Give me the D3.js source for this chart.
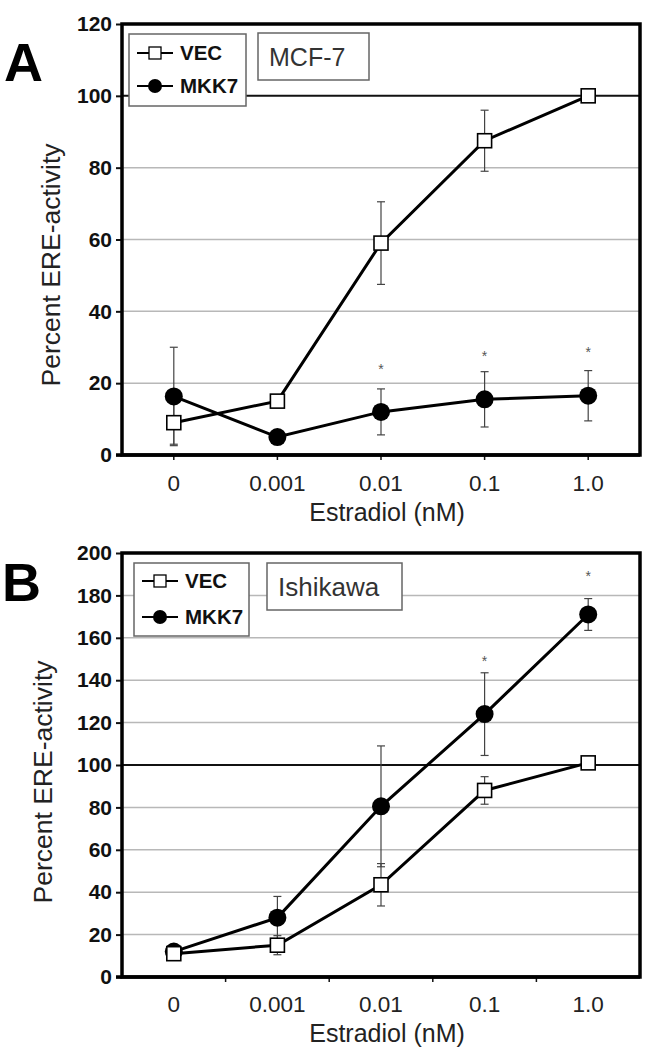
<!DOCTYPE html>
<html><head><meta charset="utf-8">
<script src="https://cdn.jsdelivr.net/npm/d3@7"></script>
<style>body{margin:0;background:#fff}svg{display:block}</style>
</head><body>
<svg id="c" width="652" height="1050"></svg>
<script>
const categories = ["0", "0.001", "0.01", "0.1", "1.0"];
const seriesNames = ["VEC", "MKK7"];
// Panel A (MCF-7)
const aVEC = [9, 15, 59, 87.5, 100];
const aVECerr = [6, 0, 11.5, 8.5, 0];
const aMKK7 = [16.3, 5, 12, 15.5, 16.5];
const aMKK7err = [13.7, 0, 6.4, 7.7, 7];
const aStars = [null, null, 24.5, 28, 29.3];
const aTicks = [0, 20, 40, 60, 80, 100, 120];
// Panel B (Ishikawa)
const bVEC = [11, 15, 43.5, 88, 101];
const bVECerr = [0, 4.5, 10, 6.5, 0];
const bMKK7 = [12, 28, 80.5, 124, 171];
const bMKK7err = [0, 10, 28.5, 19.5, 7.5];
const bStars = [null, null, null, 150, 190];
const bTicks = [0, 20, 40, 60, 80, 100, 120, 140, 160, 180, 200];

const svg = d3.select("#c");
const FONT = "Liberation Sans, Arial, sans-serif";

function panel(o) {
  const g = svg.append("g");
  const x = d3.scalePoint().domain(categories).range([o.left, o.right]).padding(0.5);
  const y = d3.scaleLinear().domain([0, o.max]).range([o.bottom, o.top]);
  // grid
  g.selectAll(".grid").data(o.ticks.filter(t => t > 0 && t < o.max)).join("line")
    .attr("x1", o.left).attr("x2", o.right)
    .attr("y1", d => y(d)).attr("y2", d => y(d))
    .attr("stroke", d => d === 100 ? "#111" : "#b8b8b8")
    .attr("stroke-width", d => d === 100 ? 2 : 1.5);
  // y axis
  const ya = g.append("g").attr("transform", `translate(${o.left},0)`)
    .call(d3.axisLeft(y).tickValues(o.ticks).tickSize(6).tickPadding(4));
  ya.select(".domain").remove();
  ya.selectAll("line").attr("stroke", "#111").attr("stroke-width", 2);
  ya.selectAll("text").attr("font-family", FONT).attr("font-weight", "bold")
    .attr("font-size", 21).attr("fill", "#111");
  // x axis
  const xa = g.append("g");
  if (o.betweenTicks) {
    const step = x.step();
    const b = d3.range(1, categories.length).map(i => o.left + i * step);
    xa.selectAll("line").data(b).join("line").attr("x1", d => d).attr("x2", d => d)
      .attr("y1", o.bottom).attr("y2", o.bottom + 5).attr("stroke", "#111").attr("stroke-width", 1.5);
  } else {
    xa.selectAll("line").data(categories).join("line").attr("x1", d => x(d)).attr("x2", d => x(d))
      .attr("y1", o.bottom).attr("y2", o.bottom + 5).attr("stroke", "#111").attr("stroke-width", 1.5);
  }
  xa.selectAll("text").data(categories).join("text")
    .attr("x", d => x(d)).attr("y", o.xLabelY).attr("text-anchor", "middle")
    .attr("font-family", FONT).attr("font-size", 22.5).attr("fill", "#222").text(d => d);
  g.append("line").attr("x1", o.left - 6).attr("x2", o.right)
    .attr("y1", o.bottom).attr("y2", o.bottom).attr("stroke", "#000").attr("stroke-width", 3.5);
  // frame
  g.append("rect").attr("x", o.left).attr("y", o.top)
    .attr("width", o.right - o.left).attr("height", o.bottom - o.top)
    .attr("fill", "none").attr("stroke", "#000").attr("stroke-width", 3.5);
  // titles
  g.append("text").attr("x", (o.left + o.right) / 2 + 6).attr("y", o.xTitleY)
    .attr("text-anchor", "middle").attr("font-family", FONT).attr("font-size", 25)
    .attr("fill", "#222").text("Estradiol (nM)");
  g.append("text").attr("transform", `translate(${o.yTitleX},${o.yTitleC}) rotate(-90)`)
    .attr("text-anchor", "middle").attr("font-family", FONT).attr("font-size", 26.5)
    .attr("fill", "#222").text("Percent ERE-activity");
  g.append("text").attr("x", o.letterX).attr("y", o.letterY)
    .attr("font-family", FONT).attr("font-weight", "bold").attr("font-size", 54)
    .attr("fill", "#000").text(o.letter);

  // legend
  const L = o.legend;
  g.append("rect").attr("x", L.x).attr("y", L.y).attr("width", L.w).attr("height", L.h)
    .attr("fill", "#fff").attr("stroke", "#666").attr("stroke-width", 1.5);
  seriesNames.forEach((s, i) => {
    const ry = L.y + L.r0 + i * L.dr;
    g.append("line").attr("x1", L.x + 8).attr("x2", L.x + 44).attr("y1", ry).attr("y2", ry)
      .attr("stroke", "#000").attr("stroke-width", 2);
    if (i === 0) g.append("rect").attr("x", L.x + 26 - 6).attr("y", ry - 6).attr("width", 12).attr("height", 12)
      .attr("fill", "#fff").attr("stroke", "#000").attr("stroke-width", 1.3);
    else g.append("circle").attr("cx", L.x + 26).attr("cy", ry).attr("r", 7).attr("fill", "#000");
    g.append("text").attr("x", L.x + 51).attr("y", ry + 7).attr("font-family", FONT)
      .attr("font-weight", "bold").attr("font-size", 20.5).attr("fill", "#111").text(s);
  });
  const C = o.cell;
  g.append("rect").attr("x", C.x).attr("y", C.y).attr("width", C.w).attr("height", C.h)
    .attr("fill", "#fff").attr("stroke", "#666").attr("stroke-width", 1.5);
  g.append("text").attr("x", C.x + 11).attr("y", C.y + C.h / 2 + 9).attr("font-family", FONT)
    .attr("font-size", C.fs).attr("fill", "#333").text(C.text);

  // error bars
  function errs(vals, errsArr) {
    const d = categories.map((c, i) => ({c, v: vals[i], e: errsArr[i]})).filter(d => d.e > 0);
    const eg = g.append("g").attr("stroke", "#444").attr("stroke-width", 1.2);
    eg.selectAll("line.v").data(d).join("line").attr("x1", d => x(d.c)).attr("x2", d => x(d.c))
      .attr("y1", d => y(d.v - d.e)).attr("y2", d => y(d.v + d.e));
    eg.selectAll("line.t").data(d).join("line").attr("x1", d => x(d.c) - 4).attr("x2", d => x(d.c) + 4)
      .attr("y1", d => y(d.v + d.e)).attr("y2", d => y(d.v + d.e));
    eg.selectAll("line.b").data(d).join("line").attr("x1", d => x(d.c) - 4).attr("x2", d => x(d.c) + 4)
      .attr("y1", d => y(d.v - d.e)).attr("y2", d => y(d.v - d.e));
  }
  errs(o.vec, o.vecErr);
  errs(o.mkk, o.mkkErr);
  const line = d3.line().x((d, i) => x(categories[i])).y(d => y(d));
  g.append("path").datum(o.mkk).attr("d", line).attr("fill", "none").attr("stroke", "#000").attr("stroke-width", 3);
  g.append("path").datum(o.vec).attr("d", line).attr("fill", "none").attr("stroke", "#000").attr("stroke-width", 3);
  g.selectAll(".dot").data(o.mkk).join("circle").attr("cx", (d, i) => x(categories[i])).attr("cy", d => y(d))
    .attr("r", 9).attr("fill", "#000");
  g.selectAll(".sq").data(o.vec).join("rect").attr("x", (d, i) => x(categories[i]) - 7).attr("y", d => y(d) - 7)
    .attr("width", 14).attr("height", 14).attr("fill", "#fff").attr("stroke", "#000").attr("stroke-width", 1.6);
  // asterisks
  g.selectAll(".star").data(o.stars.map((s, i) => ({s, c: categories[i]})).filter(d => d.s != null)).join("text")
    .attr("x", d => x(d.c)).attr("y", d => y(d.s) + 7).attr("text-anchor", "middle")
    .attr("font-family", FONT).attr("font-size", 14).attr("fill", "#555").text("*");
}

panel({left: 122, right: 640, top: 24, bottom: 455, max: 120, ticks: aTicks,
  vec: aVEC, vecErr: aVECerr, mkk: aMKK7, mkkErr: aMKK7err, stars: aStars,
  xLabelY: 491, xTitleY: 521, yTitleX: 60, yTitleC: 265, letter: "A", letterX: 4, letterY: 81,
  betweenTicks: false,
  legend: {x: 129, y: 34, w: 117, h: 72, r0: 19, dr: 33},
  cell: {x: 258, y: 33, w: 111, h: 47, text: "MCF-7", fs: 25}});

panel({left: 122, right: 640, top: 553, bottom: 977, max: 200, ticks: bTicks,
  vec: bVEC, vecErr: bVECerr, mkk: bMKK7, mkkErr: bMKK7err, stars: bStars,
  xLabelY: 1012, xTitleY: 1042, yTitleX: 52, yTitleC: 782, letter: "B", letterX: 2, letterY: 601,
  betweenTicks: true,
  legend: {x: 134, y: 563, w: 115, h: 73, r0: 18, dr: 36},
  cell: {x: 267, y: 563, w: 135, h: 47, text: "Ishikawa", fs: 26}});
</script>
</body></html>
